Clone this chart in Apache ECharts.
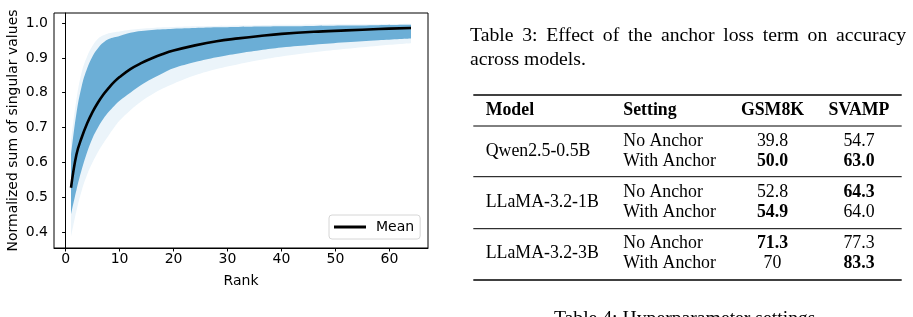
<!DOCTYPE html>
<html>
<head>
<meta charset="utf-8">
<script src="https://cdn.jsdelivr.net/npm/echarts@6/dist/echarts.min.js"></script>
<style>
  html, body { margin: 0; padding: 0; background: #fff; }
  #main { width: 913px; height: 317px; }
</style>
</head>
<body>
<div id="main"></div>
<script>
var ranks = [1, 2, 3, 4, 5, 6, 7, 8, 9, 10, 12, 14, 16, 18, 20, 24, 28, 32, 36, 40, 46, 52, 58, 64];
var meanVals = [0.527, 0.622, 0.672, 0.712, 0.745, 0.772, 0.795, 0.814, 0.831, 0.845, 0.868, 0.885, 0.899, 0.911, 0.921, 0.936, 0.948, 0.956, 0.963, 0.969, 0.975, 0.979, 0.983, 0.986];
// dense part of the band of per-layer curves
var denseLo = [0.45, 0.52, 0.58, 0.63, 0.67, 0.70, 0.725, 0.745, 0.762, 0.777, 0.80, 0.822, 0.84, 0.856, 0.870, 0.888, 0.902, 0.913, 0.922, 0.930, 0.938, 0.945, 0.951, 0.956];
var denseHi = [0.62, 0.74, 0.82, 0.87, 0.905, 0.928, 0.944, 0.954, 0.959, 0.963, 0.972, 0.977, 0.980, 0.982, 0.984, 0.986, 0.988, 0.989, 0.990, 0.991, 0.992, 0.993, 0.994, 0.995];
// faint outliers
var faintLo = [0.385, 0.46, 0.52, 0.565, 0.60, 0.63, 0.655, 0.678, 0.70, 0.72, 0.75, 0.775, 0.795, 0.812, 0.826, 0.85, 0.868, 0.882, 0.894, 0.904, 0.916, 0.926, 0.935, 0.942];
var faintHi = [0.66, 0.78, 0.86, 0.905, 0.935, 0.955, 0.965, 0.971, 0.974, 0.976, 0.981, 0.984, 0.986, 0.988, 0.989, 0.991, 0.992, 0.993, 0.994, 0.995, 0.996, 0.997, 0.997, 0.998];
var xTicks = [0, 10, 20, 30, 40, 50, 60];
var yTicks = [0.4, 0.5, 0.6, 0.7, 0.8, 0.9, 1.0];

// table 3
var captionWords = ['Table', '3:', 'Effect', 'of', 'the', 'anchor', 'loss', 'term', 'on', 'accuracy'];
var captionLine2 = 'across models.';
var headers = ['Model', 'Setting', 'GSM8K', 'SVAMP'];
var models = ['Qwen2.5-0.5B', 'LLaMA-3.2-1B', 'LLaMA-3.2-3B'];
var settings = ['No Anchor', 'With Anchor'];
var gsm8k = [['39.8', '50.0'], ['52.8', '54.9'], ['71.3', '70']];
var svamp = [['54.7', '63.0'], ['64.3', '64.0'], ['77.3', '83.3']];
var nextCaption = 'Table 4: Hyperparameter settings';

function pairs(vals) {
    return ranks.map(function (r, i) { return [r, vals[i]]; });
}

var myChart = echarts.init(document.getElementById('main'));

var serif = '"Liberation Serif", "Times New Roman", serif';
var capFont = '19.7px ' + serif;
var tabFont = '17.8px ' + serif;
var tabBold = 'bold 17.8px ' + serif;

function txt(x, y, s, font, align) {
    return {
        type: 'text', x: x, y: y, silent: true,
        style: {
            text: s, font: font, fill: '#000',
            align: align || 'left', verticalAlign: 'middle',
            textAlign: align || 'left', textVerticalAlign: 'middle'
        }
    };
}
function rule(y, w) {
    return {
        type: 'line', silent: true,
        shape: { x1: 473.3, y1: y, x2: 901.7, y2: y },
        style: { stroke: '#000', lineWidth: w }
    };
}

var graphics = [];
// justified first caption line
var ctx = document.createElement('canvas').getContext('2d');
ctx.font = capFont;
var wordW = captionWords.map(function (w) { return ctx.measureText(w).width; });
var totalW = wordW.reduce(function (a, b) { return a + b; }, 0);
var gap = (906 - 470 - totalW) / (captionWords.length - 1);
var cx = 470;
captionWords.forEach(function (w, i) {
    graphics.push(txt(cx, 36, w, capFont));
    cx += wordW[i] + gap;
});
graphics.push(txt(470, 60, captionLine2, capFont));

graphics.push(rule(95, 1.6));
graphics.push(rule(126, 1.0));
graphics.push(rule(176.7, 1.0));
graphics.push(rule(228.7, 1.0));
graphics.push(rule(280, 1.6));

var colX = [485.7, 623.3, 772.5, 859];
graphics.push(txt(colX[0], 110, headers[0], tabBold));
graphics.push(txt(colX[1], 110, headers[1], tabBold));
graphics.push(txt(colX[2], 110, headers[2], tabBold, 'center'));
graphics.push(txt(colX[3], 110, headers[3], tabBold, 'center'));

var rowY = [151.7, 202.5, 253.3];
models.forEach(function (m, i) {
    graphics.push(txt(colX[0], rowY[i], m, tabFont));
    settings.forEach(function (s, j) {
        var y = rowY[i] + (j === 0 ? -10 : 10);
        graphics.push(txt(colX[1], y, s, tabFont));
        var g = gsm8k[i], v = svamp[i];
        var gBest = parseFloat(g[j]) >= parseFloat(g[1 - j]);
        var vBest = parseFloat(v[j]) >= parseFloat(v[1 - j]);
        graphics.push(txt(colX[2], y, g[j], gBest ? tabBold : tabFont, 'center'));
        graphics.push(txt(colX[3], y, v[j], vBest ? tabBold : tabFont, 'center'));
    });
});
graphics.push(txt(684.7, 319, nextCaption, capFont, 'center'));

// band layers: each upper edge filled down to the axis, later layers paint over
function band(name, vals, color, z) {
    return {
        name: name, type: 'line', data: pairs(vals), z: z,
        symbol: 'none', smooth: 0.4, silent: true,
        lineStyle: { width: 0, opacity: 0 },
        areaStyle: { color: color, opacity: 1 }
    };
}

var sans = 'DejaVu Sans';
var option = {
    animation: false,
    grid: {
        left: 54, top: 13, right: 485, bottom: 69, z: 10,
        show: true, borderColor: '#000', borderWidth: 1
    },
    legend: {
        data: [{ name: 'Mean', icon: 'rect' }],
        left: 329, top: 215, z: 20,
        itemWidth: 32, itemHeight: 3,
        padding: [5, 6, 5, 5],
        borderColor: '#d6d6d6', borderWidth: 1, borderRadius: 3,
        backgroundColor: 'rgba(255,255,255,0.8)',
        textStyle: { fontFamily: sans, fontSize: 14, color: '#000', padding: [0, 0, 0, 5] }
    },
    xAxis: {
        type: 'value', min: -2.15, max: 67.15, z: 10,
        name: 'Rank', nameLocation: 'middle', nameGap: 26,
        nameTextStyle: { fontFamily: sans, fontSize: 14, color: '#000' },
        axisLine: { show: true, lineStyle: { color: '#000', width: 1 } },
        axisTick: { show: true, length: 3.5, customValues: xTicks, lineStyle: { color: '#000' } },
        axisLabel: { customValues: xTicks, margin: 4, fontFamily: sans, fontSize: 14, color: '#000' },
        splitLine: { show: false }
    },
    yAxis: {
        type: 'value', min: 0.354, max: 1.029, z: 10,
        name: 'Normalized sum of singular values', nameLocation: 'middle', nameGap: 34,
        nameTextStyle: { fontFamily: sans, fontSize: 14, color: '#000' },
        axisLine: { show: true, lineStyle: { color: '#000', width: 1 } },
        axisTick: { show: true, length: 3.5, customValues: yTicks, lineStyle: { color: '#000' } },
        axisLabel: {
            customValues: yTicks, margin: 6, fontFamily: sans, fontSize: 14, color: '#000',
            formatter: function (v) { return v.toFixed(1); }
        },
        splitLine: { show: false }
    },
    series: [
        band('faintHi', faintHi, '#ebf4fa', 1),
        band('denseHi', denseHi, '#6baed6', 2),
        band('denseLo', denseLo, '#ebf4fa', 3),
        band('faintLo', faintLo, '#ffffff', 4),
        {
            name: 'Mean', type: 'line', data: pairs(meanVals), z: 6,
            symbol: 'none', smooth: 0.4,
            itemStyle: { color: '#000' },
            lineStyle: { color: '#000', width: 2.6 }
        }
    ],
    graphic: graphics
};

myChart.setOption(option);
</script>
</body>
</html>
